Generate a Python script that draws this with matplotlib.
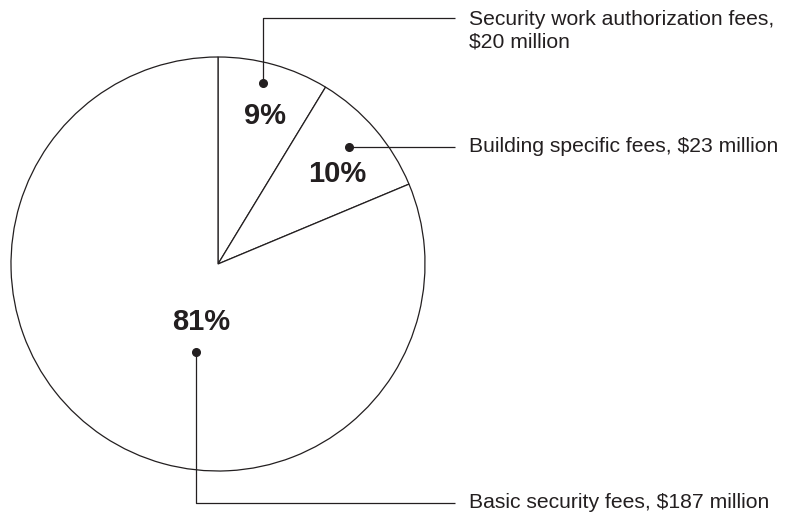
import matplotlib.pyplot as plt

# data
labels = ["Security work authorization fees,\n$20 million",
          "Building specific fees, $23 million",
          "Basic security fees, $187 million"]
values = [20, 23, 187]

W, H = 786, 514
ink = "#231f20"

fig = plt.figure(figsize=(W / 100, H / 100), dpi=100)
ax = fig.add_axes([0, 0, 1, 1])

# pie in pixel space (y measured upwards)
cx, cy, r = 218, H - 264, 207
ax.pie(values, startangle=90, counterclock=False, center=(cx, cy), radius=r,
       wedgeprops=dict(facecolor="white", edgecolor=ink, linewidth=0.9))

total = sum(values)
pcts = [f"{round(v / total * 100)}%" for v in values]

# layout (image pixels, y from top): percent label, dot, elbow path end, text pos
pct_pos = [(265, 116), (337, 174), (201, 322)]
dot_pos = [(263, 83), (349, 147), (196, 352)]
elbow = [[(263, 18), (455, 18)], [(455, 147)], [(196, 503), (455, 503)]]
text_pos = [(469, 30.5), (469, 146), (469, 503)]

for i in range(len(values)):
    px, py = pct_pos[i]
    ax.text(px, H - py, pcts[i], ha="center", va="center", fontsize=21,
            fontweight="bold", color=ink, family="Liberation Sans")
    dx, dy = dot_pos[i]
    xs = [dx] + [p[0] for p in elbow[i]]
    ys = [H - dy] + [H - p[1] for p in elbow[i]]
    ax.plot(xs, ys, color=ink, linewidth=0.9, solid_capstyle="butt")
    ax.plot(dx, H - dy, "o", color=ink, markersize=5.5)
    tx, ty = text_pos[i]
    ax.text(tx, H - ty, labels[i], ha="left", va="center", fontsize=15.2,
            color=ink, family="Liberation Sans", linespacing=1.25)

ax.set_xlim(0, W)
ax.set_ylim(0, H)
ax.set_aspect("auto")
ax.axis("off")

fig.savefig("out.png", dpi=100)
